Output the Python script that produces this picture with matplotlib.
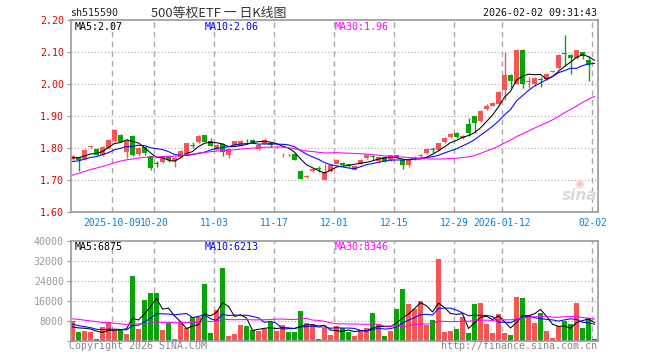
import matplotlib
matplotlib.use("Agg")
import matplotlib.pyplot as plt
import numpy as np

W, H = 660, 360

# daily bars 2025-09-29 .. 2026-02-02 (88 sessions)
opens = [1.766, 1.772, 1.768, 1.804, 1.798, 1.780, 1.800, 1.822, 1.842, 1.788,
         1.838, 1.783, 1.803, 1.775, 1.753, 1.757, 1.777, 1.759, 1.772, 1.783,
         1.810, 1.820, 1.842, 1.824, 1.796, 1.815, 1.780, 1.809, 1.808, 1.830,
         1.827, 1.798, 1.815, 1.818, 1.803, 1.781, 1.780, 1.783, 1.730, 1.711,
         1.728, 1.737, 1.702, 1.730, 1.752, 1.754, 1.751, 1.733, 1.752, 1.769,
         1.775, 1.759, 1.773, 1.762, 1.778, 1.765, 1.747, 1.769, 1.777, 1.785,
         1.797, 1.796, 1.820, 1.835, 1.849, 1.832, 1.877, 1.900, 1.884, 1.924,
         1.933, 1.940, 1.981, 2.030, 2.002, 2.108, 2.008, 2.002, 2.016, 2.015,
         2.040, 2.051, 2.097, 2.092, 2.082, 2.100, 2.077, 2.039]
highs = [1.778, 1.774, 1.797, 1.808, 1.800, 1.806, 1.829, 1.860, 1.844, 1.828,
         1.840, 1.804, 1.805, 1.777, 1.760, 1.777, 1.779, 1.772, 1.794, 1.818,
         1.819, 1.842, 1.843, 1.831, 1.812, 1.817, 1.800, 1.824, 1.827, 1.830,
         1.828, 1.813, 1.832, 1.819, 1.807, 1.784, 1.781, 1.785, 1.731, 1.718,
         1.737, 1.745, 1.750, 1.750, 1.766, 1.756, 1.752, 1.746, 1.766, 1.781,
         1.780, 1.775, 1.775, 1.780, 1.780, 1.766, 1.764, 1.775, 1.783, 1.800,
         1.803, 1.818, 1.834, 1.848, 1.850, 1.842, 1.894, 1.901, 1.919, 1.938,
         1.944, 1.978, 2.100, 2.031, 2.110, 2.109, 2.023, 2.022, 2.023, 2.035,
         2.045, 2.095, 2.155, 2.094, 2.108, 2.101, 2.088, 2.040]
lows = [1.764, 1.730, 1.765, 1.802, 1.778, 1.777, 1.798, 1.820, 1.819, 1.769,
        1.777, 1.776, 1.778, 1.733, 1.741, 1.755, 1.756, 1.742, 1.770, 1.781,
        1.800, 1.818, 1.819, 1.806, 1.794, 1.775, 1.769, 1.807, 1.806, 1.817,
        1.817, 1.796, 1.813, 1.803, 1.800, 1.774, 1.777, 1.763, 1.703, 1.706,
        1.726, 1.725, 1.700, 1.727, 1.750, 1.747, 1.742, 1.731, 1.750, 1.766,
        1.765, 1.757, 1.757, 1.760, 1.771, 1.735, 1.742, 1.765, 1.773, 1.783,
        1.786, 1.794, 1.818, 1.833, 1.833, 1.830, 1.838, 1.848, 1.882, 1.919,
        1.931, 1.938, 1.952, 1.990, 2.000, 1.988, 1.988, 1.996, 1.993, 2.012,
        2.039, 2.049, 2.058, 2.033, 2.080, 2.078, 2.009, 2.037]
closes = [1.776, 1.763, 1.796, 1.806, 1.780, 1.804, 1.827, 1.858, 1.821, 1.822,
          1.780, 1.802, 1.785, 1.740, 1.751, 1.775, 1.762, 1.770, 1.793, 1.817,
          1.808, 1.840, 1.821, 1.808, 1.810, 1.789, 1.798, 1.822, 1.823, 1.828,
          1.820, 1.811, 1.827, 1.810, 1.805, 1.782, 1.778, 1.765, 1.705, 1.713,
          1.735, 1.735, 1.725, 1.748, 1.765, 1.749, 1.744, 1.744, 1.765, 1.779,
          1.772, 1.773, 1.759, 1.778, 1.773, 1.747, 1.763, 1.771, 1.779, 1.799,
          1.795, 1.817, 1.833, 1.844, 1.835, 1.840, 1.848, 1.879, 1.918, 1.933,
          1.942, 1.977, 2.030, 2.009, 2.108, 2.002, 2.010, 2.020, 2.014, 2.033,
          2.043, 2.093, 2.095, 2.083, 2.106, 2.087, 2.061, 2.038]
volumes = [7900, 3400, 3900, 3400, 600, 5300, 7500, 4200, 4200, 2600,
           25800, 4700, 16200, 19000, 19000, 4200, 6900, 600, 7500, 5100,
           9300, 9500, 22600, 3000, 12200, 29000, 1800, 2600, 6200, 5800,
           4200, 3900, 4700, 7500, 3800, 6200, 3400, 3400, 11800, 6900,
           6600, 600, 5000, 2200, 5800, 4900, 3400, 1800, 4200, 4900,
           11000, 6600, 1800, 3800, 12600, 20600, 14600, 12500, 15900, 6200,
           8200, 32600, 3400, 3900, 4600, 9500, 3000, 14600, 15000, 6600,
           3000, 10600, 3000, 2200, 17400, 17000, 10200, 7000, 11000, 3800,
           1000, 5800, 7800, 6600, 15000, 5000, 9000, 600]

# the 29 sessions before the window, only used to seed the moving averages
prev_closes = [1.595, 1.615, 1.625, 1.640, 1.655, 1.660, 1.665,
               1.685, 1.695, 1.705, 1.715, 1.715, 1.725,
               1.735, 1.745, 1.740, 1.750, 1.745, 1.740, 1.745,
               1.740, 1.745, 1.750, 1.755, 1.745, 1.760, 1.770, 1.775, 1.770]
prev_volumes = [9000, 14000, 12000, 10000, 16000, 8000, 11000, 13000, 9000, 15000,
                10000, 12000, 11000, 10100, 7000, 5000, 6500, 5500, 6000, 6100,
                9000, 8000, 7500, 7000, 6800, 5500, 4500, 5000, 4770]

tick_idx = [7, 14, 24, 34, 44, 54, 64, 72, 87]
tick_labels = ["2025-10-09", "10-20", "11-03", "11-17", "12-01", "12-15",
               "12-29", "2026-01-12", "02-02"]
price_ticks = [1.60, 1.70, 1.80, 1.90, 2.00, 2.10, 2.20]
vol_ticks = [8000, 16000, 24000, 32000, 40000]
price_ma_text = ["MA5:2.07", "MA10:2.06", "MA30:1.96"]
vol_ma_text = ["MA5:6875", "MA10:6213", "MA30:8346"]

RED = "#f55555"
GREEN = "#08a408"
MA_COLORS = ["black", "#0000ff", "#ff00ff"]
GRIDC = "#aaaaaa"
MONO = "DejaVu Sans Mono"


def ma(prev, vals, n):
    full = np.r_[prev, vals]
    return np.convolve(full, np.ones(n) / n, mode="valid")[-len(vals):]


def px_axes(fig, left, top, right, bottom):
    return fig.add_axes([left / W, 1 - bottom / H, (right - left) / W, (bottom - top) / H])


o, h, l, c = map(np.array, (opens, highs, lows, closes))
v = np.array(volumes, dtype=float)
x = np.arange(len(c))
up = c >= o
colors = np.where(up, RED, GREEN)

fig = plt.figure(figsize=(W / 100, H / 100), dpi=100)
ax = px_axes(fig, 70.7, 20.3, 597.7, 212.3)
axv = px_axes(fig, 70.7, 240.7, 597.7, 340.7)

xlim = (-0.3, len(c) - 0.47)
vline_pos = [i - 0.35 for i in tick_idx]

for a in (ax, axv):
    a.set_xlim(*xlim)
    for s in a.spines.values():
        s.set_color("#999999")
        s.set_linewidth(1.2)
    for p in vline_pos:
        a.axvline(p, color=GRIDC, lw=1.0, ls=(0, (4, 3)), zorder=0)

# price panel
ax.vlines(x, l, h, colors=colors, lw=1.0, zorder=2)
ax.bar(x, np.maximum(np.abs(c - o), 0.0012), bottom=np.minimum(o, c), width=0.75,
       color=colors, linewidth=0, zorder=2)
for n, col in zip([5, 10, 30], MA_COLORS):
    ax.plot(x, ma(prev_closes, closes, n), color=col, lw=0.75, zorder=3)
ax.set_ylim(price_ticks[0], price_ticks[-1])
ax.set_yticks(price_ticks)
ax.set_yticklabels([f"{t:.2f}" for t in price_ticks], color="#e00000",
                   fontsize=7.2, family=MONO)
for t in price_ticks[1:-1]:
    ax.axhline(t, color=GRIDC, lw=0.8, ls=(0, (1, 2)), zorder=0)
ax.set_xticks(vline_pos)
ax.set_xticklabels(tick_labels, color="#0a80d8", fontsize=6.9, family=MONO)
ax.tick_params(axis="x", length=0, pad=4)
ax.tick_params(axis="y", length=3, color="#999999", pad=2)

# volume panel
axv.bar(x, v, width=0.8, color=colors, linewidth=0, zorder=2)
for n, col in zip([5, 10, 30], MA_COLORS):
    axv.plot(x, ma(prev_volumes, volumes, n), color=col, lw=0.75, zorder=3)
axv.set_ylim(0, vol_ticks[-1])
axv.set_yticks([0] + vol_ticks)
axv.set_yticklabels([""] + [str(t) for t in vol_ticks], color="#999999",
                    fontsize=7.2, family=MONO)
for t in vol_ticks[:-1]:
    axv.axhline(t, color=GRIDC, lw=0.8, ls=(0, (1, 2)), zorder=0)
axv.set_xticks([])
axv.tick_params(axis="y", length=3, color="#999999", pad=2)


def ftext(px, py, s, **kw):
    fig.text(px / W, 1 - py / H, s, va="center", **kw)


ftext(70, 13, "sh515590", fontsize=7.2, family=MONO, color="#222222")
ftext(151, 13, "500等权ETF 一 日K线图", fontsize=9.3,
      family=["Noto Sans CJK SC", "DejaVu Sans"], color="#333333")
ftext(597, 13, "2026-02-02 09:31:43", fontsize=7.2, family=MONO,
      color="#111111", ha="right")
for px, s, col in zip([75, 205, 335], price_ma_text, MA_COLORS):
    ftext(px, 26.5, s, fontsize=7.2, family=MONO, color=col)
for px, s, col in zip([75, 205, 335], vol_ma_text, MA_COLORS):
    ftext(px, 246.5, s, fontsize=7.2, family=MONO, color=col)
ftext(69, 346, "Copyright 2026 SINA.COM", fontsize=7.2, family=MONO, color="#888888")
ftext(597, 346, "http://finance.sina.com.cn", fontsize=7.2, family=MONO,
      color="#888888", ha="right")

# sina watermark
ftext(580, 196, "sina", fontsize=11, family="DejaVu Sans", style="italic",
      weight="bold", color="#d8d8d8", ha="center")
ftext(579, 184, "◉", fontsize=8, family="DejaVu Sans", color="#f2c4c4", ha="center")

fig.savefig("out.png", dpi=100)
